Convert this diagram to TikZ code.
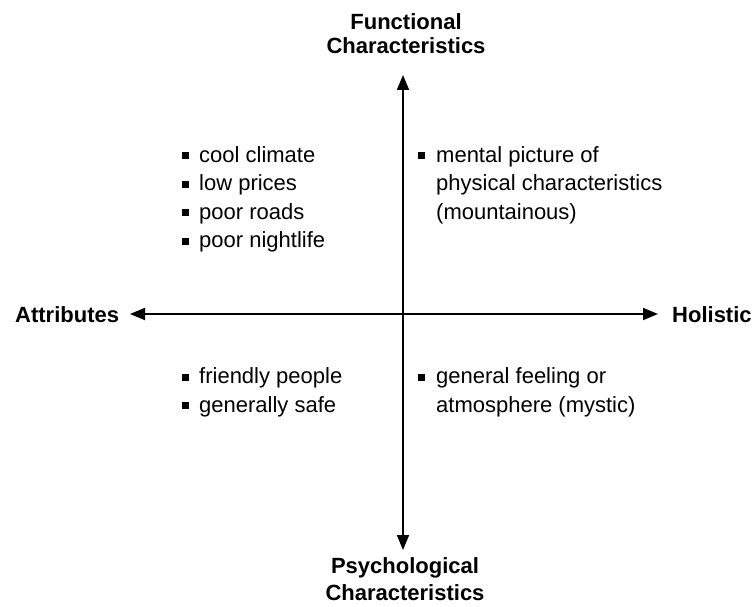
\documentclass[tikz,border=0pt]{standalone}
\usepackage{fontspec}
\setmainfont{Liberation Sans}
\usetikzlibrary{arrows.meta}
\begin{document}
\begin{tikzpicture}[x=1pt,y=-1pt,
  axislabel/.style={font=\fontsize{22}{26}\selectfont\bfseries, inner sep=0pt, anchor=base},
  item/.style={font=\fontsize{22}{26}\selectfont, inner sep=0pt, anchor=base west},
  bullet/.style={fill=black, minimum size=7pt, inner sep=0pt, draw=none},
  axis/.style={line width=1.8pt, {Triangle[length=15pt,width=12pt]}-{Triangle[length=15pt,width=12pt]}}
]
\useasboundingbox (0,0) rectangle (755,607);

% axis end points
\coordinate (top) at (403,75);
\coordinate (bottom) at (403,550);
\coordinate (left) at (130,314);
\coordinate (right) at (658,314);

\draw[axis] (top) -- (bottom);
\draw[axis] (left) -- (right);

% axis labels
\node[axislabel] (func1) at (406,30) {Functional};
\node[axislabel] (func2) at (406,54) {Characteristics};
\node[axislabel] (psy1) at (405,573) {Psychological};
\node[axislabel] (psy2) at (405,600) {Characteristics};
\node[axislabel, anchor=base west] (attr) at (15,322) {Attributes};
\node[axislabel, anchor=base west] (hol) at (672,322) {Holistic};

% upper left: attributes, functional
\foreach \t [count=\i] in {cool climate, low prices, poor roads, poor nightlife} {
  \node[bullet] (ulb\i) at (185,{155.5+28.6*(\i-1)}) {};
  \node[item] (ult\i) at (199,{162+28.6*(\i-1)}) {\t};
}

% upper right: holistic, functional
\node[bullet] (urb) at (421.5,155.5) {};
\node[item] (urt1) at (436,162) {mental picture of};
\node[item] (urt2) at (436,190.6) {physical characteristics};
\node[item] (urt3) at (436,219.2) {(mountainous)};

% lower left: attributes, psychological
\node[bullet] (llb1) at (185,377) {};
\node[item] (llt1) at (199,383.5) {friendly people};
\node[bullet] (llb2) at (185,405.6) {};
\node[item] (llt2) at (199,412.1) {generally safe};

% lower right: holistic, psychological
\node[bullet] (lrb) at (421.5,377) {};
\node[item] (lrt1) at (436,383.5) {general feeling or};
\node[item] (lrt2) at (436,412.1) {atmosphere (mystic)};
\end{tikzpicture}
\end{document}
